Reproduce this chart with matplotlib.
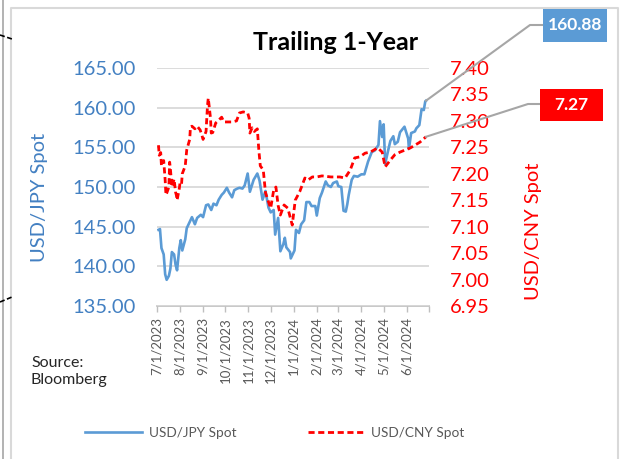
import matplotlib
matplotlib.use("Agg")
import matplotlib.pyplot as plt
import matplotlib.dates as mdates
from matplotlib.lines import Line2D
import pandas as pd

plt.rcParams["font.family"] = ["Lato", "DejaVu Sans"]

# ---- data ----
jpy_dates = [
    "2023-07-03", "2023-07-05", "2023-07-07", "2023-07-10", "2023-07-12", "2023-07-14",
    "2023-07-17", "2023-07-19", "2023-07-21", "2023-07-24", "2023-07-26", "2023-07-28",
    "2023-07-31", "2023-08-02", "2023-08-04", "2023-08-08", "2023-08-10", "2023-08-14",
    "2023-08-17", "2023-08-21", "2023-08-24", "2023-08-29", "2023-09-01", "2023-09-05",
    "2023-09-08", "2023-09-12", "2023-09-15", "2023-09-19", "2023-09-22", "2023-09-26",
    "2023-09-29", "2023-10-03", "2023-10-06", "2023-10-10", "2023-10-13", "2023-10-17",
    "2023-10-20", "2023-10-24", "2023-10-27", "2023-10-31", "2023-11-03", "2023-11-08",
    "2023-11-13", "2023-11-16", "2023-11-20", "2023-11-24", "2023-11-28", "2023-12-01",
    "2023-12-05", "2023-12-07", "2023-12-11", "2023-12-14", "2023-12-18", "2023-12-20",
    "2023-12-22", "2023-12-27", "2023-12-28", "2024-01-02", "2024-01-04", "2024-01-08",
    "2024-01-11", "2024-01-15", "2024-01-18", "2024-01-22", "2024-01-25", "2024-01-30",
    "2024-02-01", "2024-02-05", "2024-02-08", "2024-02-13", "2024-02-16", "2024-02-20",
    "2024-02-23", "2024-02-28", "2024-03-01", "2024-03-05", "2024-03-08", "2024-03-11",
    "2024-03-13", "2024-03-15", "2024-03-19", "2024-03-22", "2024-03-27", "2024-04-01",
    "2024-04-05", "2024-04-10", "2024-04-15", "2024-04-19", "2024-04-24", "2024-04-26",
    "2024-04-29", "2024-05-01", "2024-05-03", "2024-05-07", "2024-05-10", "2024-05-14",
    "2024-05-16", "2024-05-20", "2024-05-23", "2024-05-29", "2024-06-03", "2024-06-04",
    "2024-06-07", "2024-06-12", "2024-06-14", "2024-06-18", "2024-06-21", "2024-06-24",
    "2024-06-26", "2024-06-27",
]
jpy_values = [
    144.6, 144.7, 142.3, 141.5, 139.0, 138.3,
    138.8, 139.7, 141.8, 141.5, 140.2, 139.5,
    142.3, 143.3, 142.0, 143.4, 144.8, 145.6,
    146.2, 145.3, 146.1, 146.5, 146.2, 147.7,
    147.8, 147.1, 147.9, 147.7, 148.4, 149.0,
    149.3, 149.9, 149.3, 148.7, 149.6, 149.8,
    149.9, 149.8, 150.2, 151.7, 149.4, 150.9,
    151.7, 150.8, 148.4, 149.5, 147.4, 146.8,
    147.1, 144.0, 146.1, 141.9, 142.8, 143.6,
    142.4, 141.8, 141.0, 142.0, 144.6, 144.2,
    145.3, 145.8, 148.1, 148.1, 147.6, 147.6,
    146.4, 148.6, 149.3, 150.7, 150.2, 150.0,
    150.5, 150.7, 150.1, 150.0, 147.0, 146.9,
    147.8, 149.0, 150.9, 151.4, 151.3, 151.6,
    151.6, 153.2, 154.4, 154.6, 155.3, 158.3,
    156.3, 157.9, 152.9, 154.6, 155.8, 156.4,
    155.4, 155.7, 156.9, 157.6, 156.1, 154.8,
    156.8, 157.0, 157.4, 157.8, 159.8, 159.7,
    160.8, 160.88,
]

cny_dates = [
    "2023-07-03", "2023-07-04", "2023-07-06", "2023-07-07", "2023-07-10", "2023-07-12",
    "2023-07-13", "2023-07-14", "2023-07-17", "2023-07-18", "2023-07-19", "2023-07-21",
    "2023-07-24", "2023-07-26", "2023-07-27", "2023-07-28", "2023-07-31", "2023-08-01",
    "2023-08-03", "2023-08-04", "2023-08-08", "2023-08-10", "2023-08-14", "2023-08-15",
    "2023-08-17", "2023-08-21", "2023-08-24", "2023-08-28", "2023-08-30", "2023-09-01",
    "2023-09-05", "2023-09-07", "2023-09-08", "2023-09-11", "2023-09-12", "2023-09-14",
    "2023-09-18", "2023-09-21", "2023-09-26", "2023-09-29", "2023-10-10", "2023-10-16",
    "2023-10-20", "2023-10-25", "2023-10-31", "2023-11-02", "2023-11-03", "2023-11-06",
    "2023-11-09", "2023-11-13", "2023-11-15", "2023-11-17", "2023-11-21", "2023-11-24",
    "2023-11-28", "2023-12-01", "2023-12-05", "2023-12-08", "2023-12-11", "2023-12-14",
    "2023-12-19", "2023-12-24", "2023-12-30", "2024-01-03", "2024-01-09", "2024-01-16",
    "2024-01-20", "2024-01-26", "2024-02-01", "2024-02-08", "2024-02-20", "2024-03-03",
    "2024-03-10", "2024-03-17", "2024-03-23", "2024-03-30", "2024-04-06", "2024-04-13",
    "2024-04-23", "2024-04-29", "2024-05-03", "2024-05-10", "2024-05-16", "2024-05-23",
    "2024-05-30", "2024-06-06", "2024-06-12", "2024-06-19", "2024-06-27",
]
cny_values = [
    7.254, 7.235, 7.240, 7.215, 7.225, 7.188,
    7.160, 7.163, 7.175, 7.222, 7.210, 7.175,
    7.190, 7.165, 7.160, 7.150, 7.172, 7.183,
    7.180, 7.200, 7.215, 7.245, 7.265, 7.288,
    7.290, 7.285, 7.290, 7.283, 7.275, 7.265,
    7.280, 7.330, 7.343, 7.305, 7.277, 7.278,
    7.296, 7.300, 7.307, 7.298, 7.298, 7.300,
    7.315, 7.317, 7.315, 7.305, 7.277, 7.287,
    7.280, 7.285, 7.245, 7.215, 7.207, 7.164,
    7.147, 7.135, 7.169, 7.175, 7.140, 7.122,
    7.141, 7.135, 7.103, 7.150, 7.166, 7.192,
    7.188, 7.194, 7.194, 7.196, 7.194, 7.194,
    7.192, 7.207, 7.230, 7.232, 7.239, 7.241,
    7.249, 7.241, 7.213, 7.226, 7.236, 7.241,
    7.245, 7.249, 7.254, 7.260, 7.270,
]

jpy_ticks = [135, 140, 145, 150, 155, 160, 165]
cny_ticks = [6.95, 7.00, 7.05, 7.10, 7.15, 7.20, 7.25, 7.30, 7.35, 7.40]
month_ticks = pd.date_range("2023-07-01", "2024-07-01", freq="MS")

BLUE = "#5B9BD5"
BLUE_TXT = "#4380C2"
RED = "#FF0000"
GRID = "#D9D9D9"

W, H = 620, 459


def fx(px):
    return px / W


def fy(py):
    return 1 - py / H


fig = plt.figure(figsize=(W / 100, H / 100), dpi=100, facecolor="white")

# outer frame and neighbouring artefacts
fig.add_artist(Line2D([fx(3), fx(3)], [0, 1], color="#A6A6A6", lw=1.2))
fig.add_artist(Line2D([fx(11), fx(11), fx(618), fx(618)], [0, fy(8), fy(8), 0],
                      color=GRID, lw=1.5))
fig.add_artist(Line2D([0, fx(12)], [fy(35), fy(39)], color="black", lw=1.2, ls=(0, (3, 1.5))))
fig.add_artist(Line2D([0, fx(12)], [fy(302), fy(297)], color="black", lw=1.2, ls=(0, (3, 1.5))))

ax = fig.add_axes([fx(157), fy(306), fx(429) - fx(157), fy(68) - fy(306)])
ax2 = ax.twinx()

jd = pd.to_datetime(jpy_dates)
cd = pd.to_datetime(cny_dates)
ln1, = ax.plot(jd, jpy_values, color=BLUE, lw=1.9, zorder=3, label="USD/JPY Spot")
ln2, = ax2.plot(cd, cny_values, color=RED, lw=2.0, dashes=(2.2, 1.3), zorder=3,
                label="USD/CNY Spot")

ax.set_xlim(month_ticks[0], month_ticks[-1])
ax.set_ylim(135, 165)
ax2.set_ylim(6.95, 7.40)

ax.set_yticks(jpy_ticks)
ax.set_yticklabels([f"{v:.2f}" for v in jpy_ticks])
ax2.set_yticks(cny_ticks)
ax2.set_yticklabels([f"{v:.2f}" for v in cny_ticks])

ax.set_xticks(month_ticks)
ax.set_xticklabels([f"{d.month}/{d.day}/{d.year}" for d in month_ticks[:-1]] + [""],
                   rotation=90, fontsize=9.5, color="#595959")
ax.tick_params(axis="x", length=4, color="#BFBFBF", width=1, pad=4)
ax.tick_params(axis="y", length=0, pad=15, labelsize=14.5, labelcolor=BLUE_TXT)
ax2.tick_params(axis="y", length=0, pad=15, labelsize=14.5, labelcolor=RED)

ax.grid(axis="y", color=GRID, lw=1.3)
ax.set_axisbelow(True)
for s in ["left", "right", "top"]:
    ax.spines[s].set_visible(False)
    ax2.spines[s].set_visible(False)
ax2.spines["bottom"].set_visible(False)
ax.spines["bottom"].set_color("#BFBFBF")
ax.spines["bottom"].set_linewidth(1.2)
ax.spines["bottom"].set_zorder(0)

# titles and labels
fig.text(fx(336), fy(42), "Trailing 1-Year", ha="center", va="center",
         fontsize=18, fontweight="bold", color="black")
fig.text(fx(40), fy(197), "USD/JPY Spot", rotation=90, ha="center", va="center",
         fontsize=14.5, color=BLUE_TXT)
fig.text(fx(533), fy(231), "USD/CNY Spot", rotation=90, ha="center", va="center",
         fontsize=14.5, color=RED)
fig.text(fx(31), fy(356), "Source:\nBloomberg", ha="left", va="top",
         fontsize=11.5, color="#262626", linespacing=1.3)

# call-out boxes with leader lines from the last data points
to_fig = fig.transFigure.inverted()
fig.canvas.draw()
p_jpy = to_fig.transform(ax.transData.transform((mdates.date2num(jd[-1]), jpy_values[-1])))
p_cny = to_fig.transform(ax2.transData.transform((mdates.date2num(cd[-1]), cny_values[-1])))

fig.add_artist(Line2D([p_jpy[0], fx(530), fx(543)], [p_jpy[1], fy(25), fy(25)],
                      color="#A6A6A6", lw=1.5))
fig.add_artist(Line2D([p_cny[0], fx(528), fx(540)], [p_cny[1], fy(104), fy(104)],
                      color="#A6A6A6", lw=1.5))

fig.patches.append(plt.Rectangle((fx(543), fy(42)), fx(607) - fx(543), fy(9) - fy(42),
                                 transform=fig.transFigure, facecolor=BLUE, edgecolor="none",
                                 zorder=5))
fig.text(fx(575), fy(25.5), f"{jpy_values[-1]:.2f}", ha="center", va="center",
         fontsize=12.5, fontweight="bold", color="white", zorder=6)
fig.patches.append(plt.Rectangle((fx(540), fy(121)), fx(603) - fx(540), fy(89) - fy(121),
                                 transform=fig.transFigure, facecolor=RED, edgecolor="none",
                                 zorder=5))
fig.text(fx(571.5), fy(105), f"{cny_values[-1]:.2f}", ha="center", va="center",
         fontsize=12.5, fontweight="bold", color="white", zorder=6)

# legend
fig.legend(handles=[ln1, ln2], loc="center", bbox_to_anchor=(fx(275), fy(433)),
           ncol=2, frameon=False, fontsize=9.8, labelcolor="#595959",
           handlelength=4.2, handletextpad=0.45, columnspacing=5.3)

fig.savefig("out.png", dpi=100, facecolor="white")
